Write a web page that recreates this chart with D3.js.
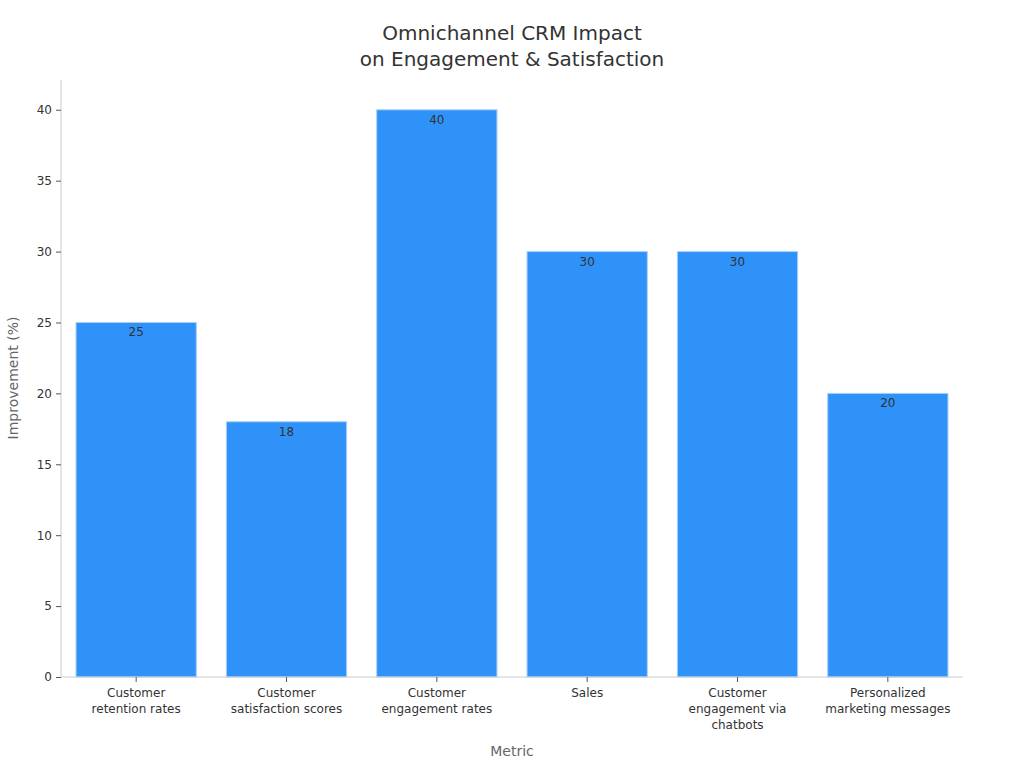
<!DOCTYPE html>
<html>
<head>
<meta charset="utf-8">
<script src="https://cdn.jsdelivr.net/npm/d3@7"></script>
<style>
  body { margin: 0; background: #fff; }
  text { font-family: "DejaVu Sans", sans-serif; }
</style>
</head>
<body>
<svg id="chart" width="1024" height="768"></svg>
<script>
const categories = [
  ["Customer", "retention rates"],
  ["Customer", "satisfaction scores"],
  ["Customer", "engagement rates"],
  ["Sales"],
  ["Customer", "engagement via", "chatbots"],
  ["Personalized", "marketing messages"]
];
const values = [25, 18, 40, 30, 30, 20];
const yTicks = [0, 5, 10, 15, 20, 25, 30, 35, 40];
const titleLines = ["Omnichannel CRM Impact", "on Engagement & Satisfaction"];

const svg = d3.select("#chart");
const plotLeft = 61, plotRight = 963, plotTop = 80, plotBottom = 677;

const x = d3.scaleBand()
  .domain(d3.range(categories.length))
  .range([plotLeft, plotRight])
  .paddingInner(0.2)
  .paddingOuter(0.1);

const y = d3.scaleLinear().domain([0, 42.1]).range([plotBottom, plotTop]);

// Title
svg.append("text")
  .attr("x", 512).attr("y", 40)
  .attr("text-anchor", "middle")
  .attr("font-size", 20)
  .attr("fill", "#333")
  .selectAll("tspan").data(titleLines).join("tspan")
  .attr("x", 512)
  .attr("dy", (d, i) => i === 0 ? 0 : 26)
  .text(d => d);

// Bars
svg.append("g").selectAll("rect").data(values).join("rect")
  .attr("x", (d, i) => x(i))
  .attr("y", d => y(d))
  .attr("width", x.bandwidth())
  .attr("height", d => y(0) - y(d))
  .attr("fill", "#2f92f8")
  .attr("stroke", "#a8d0fb")
  .attr("stroke-width", 1);

// Value labels
svg.append("g").selectAll("text").data(values).join("text")
  .attr("x", (d, i) => x(i) + x.bandwidth() / 2)
  .attr("y", d => y(d) + 14)
  .attr("text-anchor", "middle")
  .attr("font-size", 12)
  .attr("fill", "#333")
  .text(d => d);

// Y axis
const yAxis = svg.append("g")
  .attr("transform", `translate(${plotLeft},0)`)
  .call(d3.axisLeft(y).tickValues(yTicks).tickSize(5).tickPadding(4));
yAxis.select(".domain").attr("stroke", "#ccc").attr("d", `M0,${plotTop}V${plotBottom}`);
yAxis.selectAll(".tick line").attr("stroke", "#555");
yAxis.selectAll(".tick text").attr("font-size", 12).attr("fill", "#333")
  .attr("font-family", "DejaVu Sans, sans-serif");

// X axis
const xAxis = svg.append("g")
  .attr("transform", `translate(0,${plotBottom})`)
  .call(d3.axisBottom(x).tickSize(5).tickFormat(""));
xAxis.select(".domain").attr("stroke", "#ccc").attr("d", `M${plotLeft},0H${plotRight}`);
xAxis.selectAll(".tick line").attr("stroke", "#555");
xAxis.selectAll(".tick").each(function(d) {
  const t = d3.select(this).append("text")
    .attr("y", 20)
    .attr("text-anchor", "middle")
    .attr("font-size", 12)
    .attr("fill", "#333")
    .attr("font-family", "DejaVu Sans, sans-serif");
  categories[d].forEach((line, i) => {
    t.append("tspan").attr("x", 0).attr("dy", i === 0 ? 0 : 16).text(line);
  });
});

// Axis titles
svg.append("text")
  .attr("transform", "translate(18,378) rotate(-90)")
  .attr("text-anchor", "middle")
  .attr("font-size", 14)
  .attr("fill", "#666")
  .text("Improvement (%)");

svg.append("text")
  .attr("x", 512).attr("y", 756)
  .attr("text-anchor", "middle")
  .attr("font-size", 14)
  .attr("fill", "#666")
  .text("Metric");
</script>
</body>
</html>
